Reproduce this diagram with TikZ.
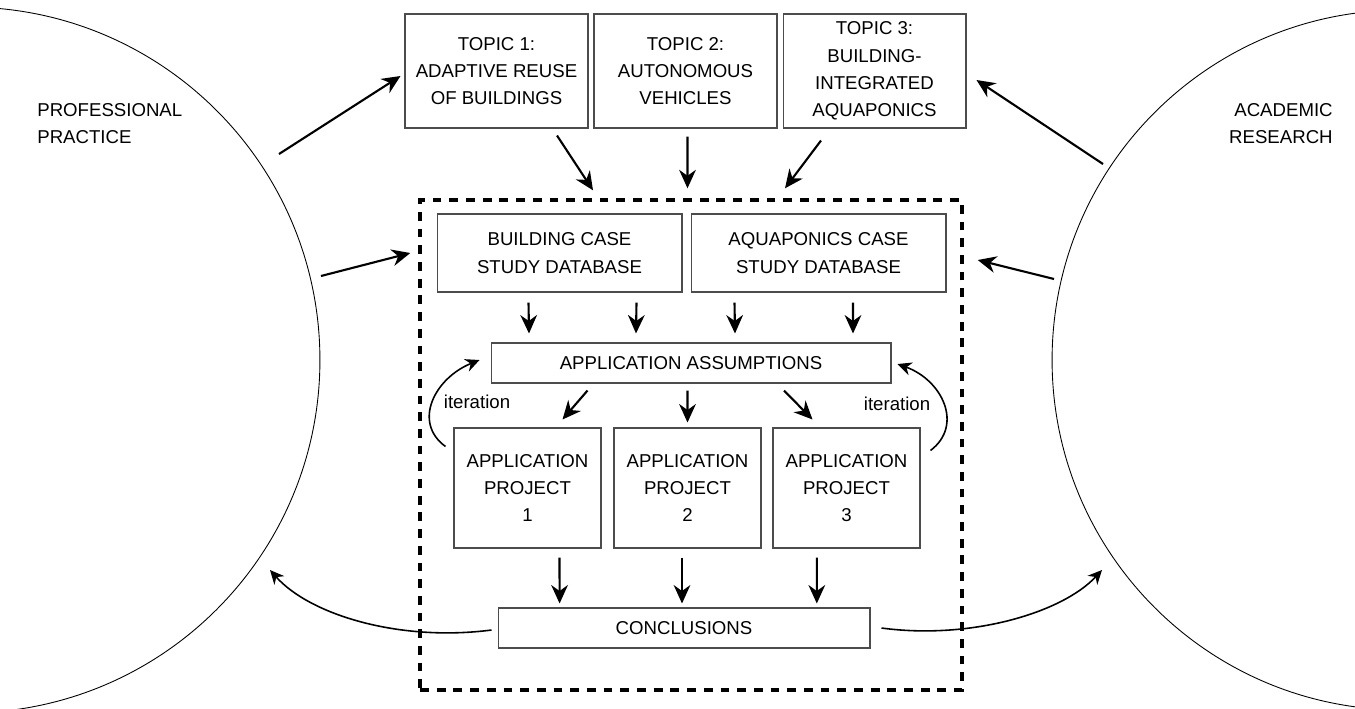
\documentclass[tikz,border=0pt]{standalone}
\usepackage{fontspec}
\setmainfont{Liberation Sans}
\usetikzlibrary{arrows.meta}

\begin{document}
\begin{tikzpicture}[x=0.02cm,y=-0.02cm,
  txt/.style={font=\fontsize{10.6}{15.6}\selectfont},
  box/.style={txt,draw=black!70,line width=0.6pt,align=center,inner sep=0pt},
  arr/.style={-{Stealth[length=10.5pt,width=9.5pt]},line width=1.2pt},
  bendarr/.style={-{Stealth[length=8pt,width=7.5pt]},line width=0.9pt}]
\useasboundingbox (0,0) rectangle (1355,708);
% the two worlds
\draw[line width=0.5pt] (-33,360) circle [radius=7.06cm];
\draw[line width=0.5pt] (1402,360) circle [radius=7cm];
\node[txt,anchor=west,align=left,inner sep=0pt] (prof) at (37,123.5) {PROFESSIONAL\\PRACTICE};
\node[txt,anchor=east,align=right,inner sep=0pt] (acad) at (1333,123.5) {ACADEMIC\\RESEARCH};
% topics
\node[box,minimum width=3.66cm,minimum height=2.28cm] (t1) at (496.5,71) {TOPIC 1:\\ADAPTIVE REUSE\\OF BUILDINGS};
\node[box,minimum width=3.66cm,minimum height=2.28cm] (t2) at (685.5,71) {TOPIC 2:\\AUTONOMOUS\\VEHICLES};
\node[box,minimum width=3.66cm,minimum height=2.28cm] (t3) at (874.5,71) {TOPIC 3:\\BUILDING-\\INTEGRATED\\AQUAPONICS};
% dashed frame
\node[draw,line width=2pt,dash pattern=on 5pt off 4.5pt,inner sep=0pt,minimum width=10.84cm,minimum height=9.8cm] (frame) at (691,445) {};
\node[box,minimum width=4.9cm,minimum height=1.56cm] (bdb) at (559.5,253) {BUILDING CASE\\STUDY DATABASE};
\node[box,minimum width=5.1cm,minimum height=1.56cm] (adb) at (818.5,253) {AQUAPONICS CASE\\STUDY DATABASE};
\node[box,minimum width=8cm,minimum height=0.8cm] (asm) at (691,363) {APPLICATION ASSUMPTIONS};
\node[box,minimum width=2.94cm,minimum height=2.4cm] (p1) at (527.5,488) {APPLICATION\\PROJECT\\1};
\node[box,minimum width=2.94cm,minimum height=2.4cm] (p2) at (687.5,488) {APPLICATION\\PROJECT\\2};
\node[box,minimum width=2.94cm,minimum height=2.4cm] (p3) at (846.5,488) {APPLICATION\\PROJECT\\3};
\node[box,minimum width=7.44cm,minimum height=0.8cm] (con) at (684,628) {CONCLUSIONS};
\node[txt] (it1) at (477,402) {iteration};
\node[txt] (it2) at (897,404) {iteration};
% free ends on the circles
\coordinate (pp1) at (279,154);
\coordinate (pp2) at (321,276);
\coordinate (pp3) at (270,570);
\coordinate (ar1) at (1103,164);
\coordinate (ar2) at (1054,279);
\coordinate (ar3) at (1102,570);
% arrows
\draw[arr] (pp1) -- ([shift={(-4,5)}]t1.west);
\draw[arr] (pp2) -- ([shift={(-8,-192)}]frame.west);
\draw[arr] (ar1) -- ([shift={(10,9)}]t3.east);
\draw[arr] (ar2) -- ([shift={(14,-185)}]frame.east);
\draw[arr] ([shift={(60.5,7)}]t1.south) -- ([shift={(-98,-8)}]frame.north);
\draw[arr] ([shift={(2,8)}]t2.south) -- ([shift={(-3.5,-10)}]frame.north);
\draw[arr] ([shift={(-53.5,12)}]t3.south) -- ([shift={(94,-10)}]frame.north);
\foreach \a/\b in {-31/-162,77/-55}
  \draw[arr] ([shift={(\a,10)}]bdb.south) -- ([shift={(\b,-9)}]asm.north);
\foreach \a/\b in {-84/44,34.5/162}
  \draw[arr] ([shift={(\a,10)}]adb.south) -- ([shift={(\b,-9)}]asm.north);
\draw[arr] ([shift={(-103.5,7)}]asm.south) -- ([shift={(35,-8)}]p1.north);
\draw[arr] ([shift={(-3.5,7)}]asm.south) -- ([shift={(0,-5)}]p2.north);
\draw[arr] ([shift={(93,7)}]asm.south) -- ([shift={(-34,-8)}]p3.north);
\draw[arr] ([shift={(32,9)}]p1.south) -- ([shift={(-124.4,-4)}]con.north);
\draw[arr] ([shift={(-5.5,9)}]p2.south) -- ([shift={(-2,-4)}]con.north);
\draw[arr] ([shift={(-29.7,9)}]p3.south) -- ([shift={(132.8,-4)}]con.north);
% iteration loops
\draw[bendarr] ([shift={(-8,19)}]p1.north west) .. controls (412,422) and (435,378) .. ([shift={(-11,-3)}]asm.west);
\draw[bendarr] ([shift={(10,23)}]p3.north east) .. controls (964,425) and (942,380) .. ([shift={(6,1)}]asm.east);
% back to practice and research
\draw[bendarr] ([shift={(-6,2)}]con.west) .. controls (400,642) and (310,615) .. (pp3);
\draw[bendarr] ([shift={(11,0)}]con.east) .. controls (970,640) and (1062,613) .. (ar3);
\end{tikzpicture}
\end{document}
